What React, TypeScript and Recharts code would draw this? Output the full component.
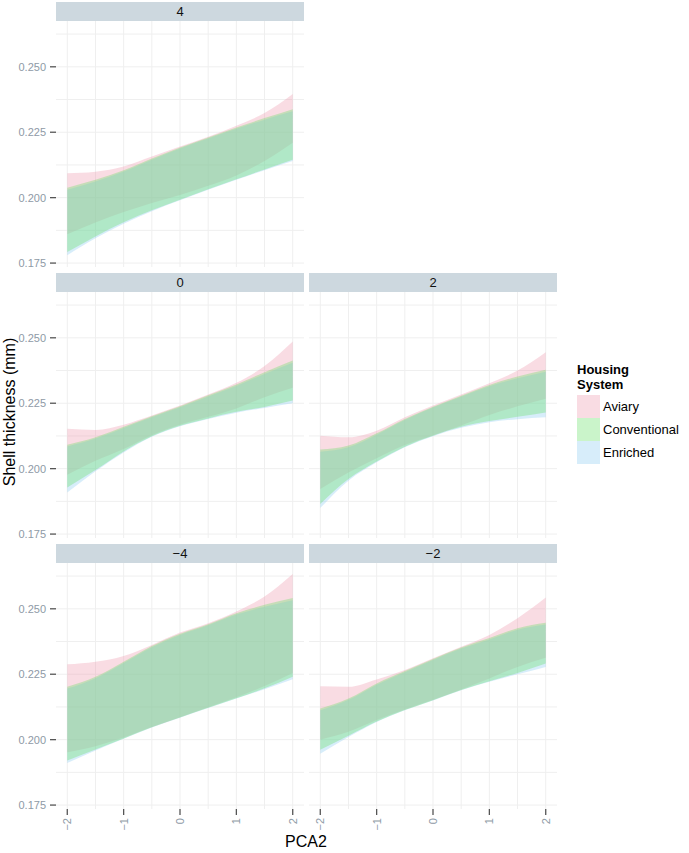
import { AreaChart, Area, XAxis, YAxis, CartesianGrid } from "recharts";

// PCA2 positions the ribbons are sampled at
const pcaX = [-2, -1.5, -1, -0.5, 0, 0.5, 1, 1.5, 2];
const xTicks = [-2, -1, 0, 1, 2];
const yTicks = [0.175, 0.2, 0.225, 0.25];
const gridX = [-2, -1.5, -1, -0.5, 0, 0.5, 1, 1.5, 2];
const gridY = [0.175, 0.1875, 0.2, 0.2125, 0.225, 0.2375, 0.25, 0.2625];
const housing = ["Aviary", "Conventional", "Enriched"];

// facet "4"
const p4AviaryLo = [0.186, 0.1905, 0.1945, 0.198, 0.201, 0.2045, 0.2085, 0.214, 0.221];
const p4AviaryHi = [0.2093, 0.2099, 0.2119, 0.2157, 0.2195, 0.2233, 0.2275, 0.2323, 0.2396];
const p4ConvLo = [0.1792, 0.1852, 0.1906, 0.1952, 0.1992, 0.2032, 0.207, 0.2108, 0.2145];
const p4ConvHi = [0.2038, 0.2068, 0.2105, 0.215, 0.2192, 0.223, 0.2268, 0.2304, 0.2338];
const p4EnrLo = [0.178, 0.1845, 0.19, 0.1948, 0.199, 0.203, 0.2068, 0.2105, 0.214];
const p4EnrHi = [0.203, 0.2062, 0.21, 0.2145, 0.2188, 0.2226, 0.2263, 0.2298, 0.233];

// facet "0"
const p0AviaryLo = [0.1977, 0.203, 0.2075, 0.2128, 0.2168, 0.2198, 0.223, 0.2273, 0.2309];
const p0AviaryHi = [0.2152, 0.2148, 0.2168, 0.2203, 0.2241, 0.2283, 0.2328, 0.2392, 0.2486];
const p0ConvLo = [0.1928, 0.1995, 0.2066, 0.2124, 0.2164, 0.2192, 0.2217, 0.2236, 0.226];
const p0ConvHi = [0.2091, 0.212, 0.216, 0.22, 0.2238, 0.228, 0.2322, 0.2368, 0.2413];
const p0EnrLo = [0.1909, 0.199, 0.2062, 0.2122, 0.2162, 0.219, 0.2214, 0.2232, 0.225];
const p0EnrHi = [0.2085, 0.2115, 0.2155, 0.2196, 0.2235, 0.2276, 0.2316, 0.2362, 0.2405];

// facet "2"
const p2AviaryLo = [0.1922, 0.1985, 0.204, 0.209, 0.2128, 0.2165, 0.2205, 0.2238, 0.2267];
const p2AviaryHi = [0.2126, 0.212, 0.2145, 0.2196, 0.2241, 0.2283, 0.2326, 0.2375, 0.2445];
const p2ConvLo = [0.1865, 0.196, 0.2027, 0.2084, 0.2126, 0.216, 0.2182, 0.2198, 0.2215];
const p2ConvHi = [0.2073, 0.2088, 0.2135, 0.219, 0.2237, 0.2279, 0.232, 0.2352, 0.2378];
const p2EnrLo = [0.185, 0.1954, 0.2024, 0.2082, 0.2124, 0.2156, 0.2177, 0.2189, 0.2196];
const p2EnrHi = [0.2065, 0.2082, 0.213, 0.2186, 0.2234, 0.2275, 0.2315, 0.2345, 0.237];

// facet "-4"
const pm4AviaryLo = [0.1952, 0.1975, 0.2008, 0.2048, 0.2086, 0.2124, 0.2162, 0.2205, 0.2255];
const pm4AviaryHi = [0.2288, 0.2298, 0.232, 0.2362, 0.2409, 0.2445, 0.249, 0.2547, 0.2633];
const pm4ConvLo = [0.192, 0.1962, 0.2004, 0.2047, 0.2085, 0.2122, 0.2158, 0.2196, 0.224];
const pm4ConvHi = [0.2202, 0.224, 0.2298, 0.2358, 0.2405, 0.2441, 0.2483, 0.2515, 0.2541];
const pm4EnrLo = [0.1911, 0.1959, 0.2003, 0.2046, 0.2084, 0.2121, 0.2157, 0.2193, 0.2231];
const pm4EnrHi = [0.2195, 0.2235, 0.2293, 0.2353, 0.24, 0.2437, 0.2478, 0.2508, 0.2533];

// facet "-2"
const pm2AviaryLo = [0.2, 0.203, 0.2075, 0.2115, 0.2152, 0.2192, 0.2234, 0.2278, 0.2313];
const pm2AviaryHi = [0.2204, 0.2202, 0.223, 0.2266, 0.2311, 0.2355, 0.24, 0.2464, 0.2543];
const pm2ConvLo = [0.1961, 0.2015, 0.2069, 0.2113, 0.2151, 0.219, 0.2223, 0.2255, 0.2291];
const pm2ConvHi = [0.2119, 0.2157, 0.2215, 0.2262, 0.2308, 0.2352, 0.2388, 0.2426, 0.2447];
const pm2EnrLo = [0.1946, 0.201, 0.2067, 0.2112, 0.215, 0.2189, 0.2221, 0.225, 0.2278];
const pm2EnrHi = [0.2112, 0.2152, 0.221, 0.2258, 0.2304, 0.2348, 0.2383, 0.242, 0.244];

const FILLS = ["#EE9AB0", "#66E066", "#8CCBF2"];
const ALPHA = 0.35;
const FONT = "'Liberation Sans', Arial, Helvetica, sans-serif";
const TICK_GREY = "#8e9aa6";

const PLOT_H = 246;
const PLOT_W = 248;
const Y_AXIS_W = 56;
const X_AXIS_H = 36;
const STRIP_H = 19;
const PAD_B = 8;

function makeRows(lists: number[][]) {
  return pcaX.map((x, i) => ({
    x,
    avLo: lists[0][i],
    avHi: lists[1][i],
    cvLo: lists[2][i],
    cvHi: lists[3][i],
    enLo: lists[4][i],
    enHi: lists[5][i],
  }));
}

const minus = (v: number) => String(v).replace("-", "\u2212");

// x labels read bottom-to-top, ending just under the tick mark
function RotatedTick(props: any) {
  const { x, y, payload } = props;
  return (
    <text
      x={x}
      y={y}
      transform={`rotate(-90, ${x}, ${y})`}
      textAnchor="end"
      dominantBaseline="central"
      fontSize={11}
      fill={TICK_GREY}
      fontFamily={FONT}
    >
      {minus(payload.value)}
    </text>
  );
}

interface PanelProps {
  label: string;
  lists: number[][];
  left: number;
  top: number;
  showY: boolean;
  showX: boolean;
}

function Panel({ label, lists, left, top, showY, showX }: PanelProps) {
  const rows = makeRows(lists);
  const w = PLOT_W + (showY ? Y_AXIS_W : 0);
  const h = PLOT_H + (showX ? X_AXIS_H : PAD_B);
  const plotLeft = showY ? left - Y_AXIS_W : left;
  return (
    <>
      <div style={{ position: "absolute", left: plotLeft, top }}>
        <AreaChart
          width={w}
          height={h}
          data={rows}
          margin={{ top: 0, right: 0, bottom: showX ? 0 : PAD_B, left: 0 }}
        >
          <CartesianGrid stroke="#efefef" horizontalValues={gridY} verticalValues={gridX} />
          <XAxis
            type="number"
            dataKey="x"
            domain={[-2.2, 2.2]}
            ticks={xTicks}
            allowDataOverflow
            hide={!showX}
            height={X_AXIS_H}
            axisLine={false}
            tickLine={{ stroke: "#555", strokeWidth: 1.3 }}
            tickSize={6}
            tickMargin={3}
            tick={<RotatedTick />}
            interval={0}
          />
          <YAxis
            type="number"
            domain={[0.1735, 0.2675]}
            ticks={yTicks}
            allowDataOverflow
            hide={!showY}
            width={Y_AXIS_W}
            axisLine={false}
            tickLine={{ stroke: "#555", strokeWidth: 1.3 }}
            tickSize={6}
            tickMargin={4}
            tickFormatter={(v: number) => v.toFixed(3)}
            tick={{ fontSize: 11, fill: TICK_GREY, fontFamily: FONT }}
            interval={0}
          />
          <Area
            type="monotone"
            dataKey={(d: any) => [d.avLo, d.avHi]}
            name={housing[0]}
            stroke="none"
            fill={FILLS[0]}
            fillOpacity={ALPHA}
            isAnimationActive={false}
          />
          <Area
            type="monotone"
            dataKey={(d: any) => [d.enLo, d.enHi]}
            name={housing[2]}
            stroke="none"
            fill={FILLS[2]}
            fillOpacity={ALPHA}
            isAnimationActive={false}
          />
          <Area
            type="monotone"
            dataKey={(d: any) => [d.cvLo, d.cvHi]}
            name={housing[1]}
            stroke="none"
            fill={FILLS[1]}
            fillOpacity={ALPHA}
            isAnimationActive={false}
          />
        </AreaChart>
      </div>
      <div
        style={{
          position: "absolute",
          left,
          top: top - STRIP_H,
          width: PLOT_W,
          height: STRIP_H,
          background: "#cdd8df",
          fontSize: 13,
          lineHeight: `${STRIP_H}px`,
          textAlign: "center",
          color: "#111",
          fontFamily: FONT,
        }}
      >
        {label}
      </div>
    </>
  );
}

export default function App() {
  return (
    <div
      style={{
        position: "absolute",
        left: 0,
        top: 0,
        width: 689,
        height: 853,
        background: "#fff",
        fontFamily: FONT,
      }}
    >
      <Panel label="4" lists={[p4AviaryLo, p4AviaryHi, p4ConvLo, p4ConvHi, p4EnrLo, p4EnrHi]} left={56} top={21} showY showX={false} />
      <Panel label="0" lists={[p0AviaryLo, p0AviaryHi, p0ConvLo, p0ConvHi, p0EnrLo, p0EnrHi]} left={56} top={292} showY showX={false} />
      <Panel label="2" lists={[p2AviaryLo, p2AviaryHi, p2ConvLo, p2ConvHi, p2EnrLo, p2EnrHi]} left={309} top={292} showY={false} showX={false} />
      <Panel label={minus(-4)} lists={[pm4AviaryLo, pm4AviaryHi, pm4ConvLo, pm4ConvHi, pm4EnrLo, pm4EnrHi]} left={56} top={563} showY showX />
      <Panel label={minus(-2)} lists={[pm2AviaryLo, pm2AviaryHi, pm2ConvLo, pm2ConvHi, pm2EnrLo, pm2EnrHi]} left={309} top={563} showY={false} showX />

      <div
        style={{
          position: "absolute",
          left: 10,
          top: 412,
          transform: "translate(-50%, -50%) rotate(-90deg)",
          fontSize: 16,
          whiteSpace: "nowrap",
          color: "#000",
        }}
      >
        Shell thickness (mm)
      </div>
      <div
        style={{
          position: "absolute",
          left: 306,
          top: 842,
          transform: "translate(-50%, -50%)",
          fontSize: 16,
          color: "#000",
        }}
      >
        PCA2
      </div>

      <div style={{ position: "absolute", left: 577, top: 362 }}>
        <div style={{ fontSize: 13, fontWeight: "bold", lineHeight: "15px", marginBottom: 3 }}>
          Housing
          <br />
          System
        </div>
        {housing.map((name, i) => (
          <div key={name} style={{ display: "flex", alignItems: "center", height: 23 }}>
            <div style={{ width: 23, height: 23, background: FILLS[i], opacity: ALPHA }} />
            <span style={{ marginLeft: 3, fontSize: 13 }}>{name}</span>
          </div>
        ))}
      </div>
    </div>
  );
}
